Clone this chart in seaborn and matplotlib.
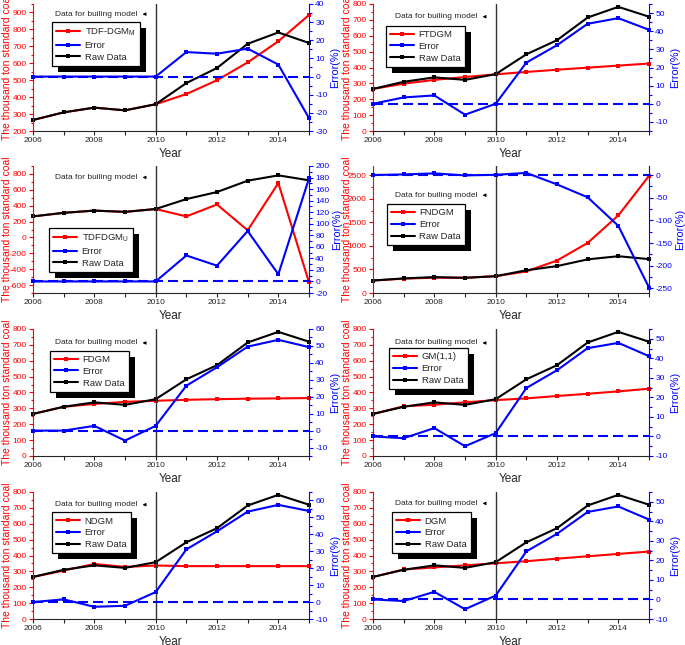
import matplotlib
matplotlib.use("Agg")
import matplotlib.pyplot as plt
import seaborn as sns
from matplotlib.patches import Rectangle
from matplotlib.ticker import MultipleLocator, AutoMinorLocator

# shared data
years = [2006, 2007, 2008, 2009, 2010, 2011, 2012, 2013, 2014, 2015]
raw_data = [265, 310, 338, 322, 358, 483, 572, 715, 782, 720]

# model predictions (thousand ton standard coal)
tdf_dgm_m = [265, 310, 338, 322, 358, 418, 500, 605, 730, 885]
ftdgm = [265, 298, 322, 340, 357, 372, 386, 399, 412, 425]
tdfdgm_u = [265, 310, 338, 322, 358, 265, 415, 90, 685, -565]
fndgm = [265, 305, 325, 324, 356, 460, 690, 1065, 1650, 2490]
fdgm = [265, 310, 328, 341, 348, 354, 358, 361, 363, 365]
gm11 = [265, 313, 323, 338, 352, 363, 378, 392, 407, 424]
ndgm = [265, 305, 347, 328, 337, 333, 333, 333, 333, 333]
dgm = [265, 312, 325, 338, 351, 364, 380, 395, 410, 425]

# relative errors (%)
err_tdf_dgm_m = [0, 0, 0, 0, 0, 13.5, 12.6, 15.4, 6.6, -22.9]
err_ftdgm = [0, 3.5, 4.6, -6.0, 0, 22.7, 32.3, 44.1, 47.2, 40.8]
err_tdfdgm_u = [0, 0, 0, 0, 0, 45.0, 27.4, 87.4, 12.4, 178.5]
err_fndgm = [0, 1.5, 3.7, -0.7, 0.6, 4.8, -20.6, -49.0, -112.0, -248.0]
err_fdgm = [0, 0, 2.8, -5.9, 2.8, 26.5, 37.4, 49.6, 53.6, 49.3]
err_gm11 = [0, -0.9, 4.3, -5.0, 1.7, 24.8, 33.9, 45.2, 47.9, 41.1]
err_ndgm = [0, 1.6, -2.8, -2.2, 5.9, 31.1, 41.8, 53.4, 57.4, 53.8]
err_dgm = [0, -0.8, 3.9, -5.0, 2.0, 24.6, 33.6, 44.8, 47.6, 40.9]

RED = "#ff0000"
BLUE = "#0000ff"

sns.set_style("ticks")
plt.rcParams["font.family"] = ["Liberation Sans", "DejaVu Sans"]
plt.rcParams["mathtext.default"] = "regular"
plt.rcParams["axes.unicode_minus"] = False

fig = plt.figure(figsize=(6.85, 6.45), dpi=100)

# (name, model, error, left lim, left step, right lim, right step, legend xy, text y)
panels = [
    ("TDF-DGM$_\\mathregular{M}$", tdf_dgm_m, err_tdf_dgm_m, (200, 950), 100, (-30, 40), 10, (0.069, 0.856), 0.92),
    ("FTDGM", ftdgm, err_ftdgm, (0, 800), 100, (-15, 55), 10, (0.047, 0.83), 0.90),
    ("TDFDGM$_\\mathregular{U}$", tdfdgm_u, err_tdfdgm_u, (-700, 900), 200, (-20, 200), 20, (0.058, 0.51), 0.91),
    ("FNDGM", fndgm, err_fndgm, (0, 2700), 500, (-260, 20), 50, (0.05, 0.70), 0.77),
    ("FDGM", fdgm, err_fdgm, (0, 800), 100, (-15, 60), 10, (0.062, 0.83), 0.89),
    ("GM(1,1)", gm11, err_gm11, (0, 800), 100, (-10, 55), 10, (0.058, 0.85), 0.89),
    ("NDGM", ndgm, err_ndgm, (0, 800), 100, (-10, 65), 10, (0.069, 0.84), 0.90),
    ("DGM", dgm, err_dgm, (0, 800), 100, (-10, 55), 10, (0.069, 0.84), 0.91),
]

col_left = [33 / 685, 373 / 685]
row_top = [4, 166, 329, 492]
w = 276 / 685
h = 127 / 645

legends = []
for i, (name, model, err, ylim1, step1, ylim2, step2, leg_xy, text_y) in enumerate(panels):
    r, c = divmod(i, 2)
    ax = fig.add_axes([col_left[c], 1 - (row_top[r] + 127) / 645, w, h])
    ax2 = ax.twinx()

    sns.lineplot(x=years, y=model, ax=ax, color=RED, marker="s", markersize=3.5,
                 markeredgewidth=0, linewidth=1.5, clip_on=False)
    h_model = ax.lines[-1]
    sns.lineplot(x=years, y=raw_data, ax=ax, color="black", marker="s", markersize=3.5,
                 markeredgewidth=0, linewidth=1.5, clip_on=False)
    h_raw = ax.lines[-1]
    sns.lineplot(x=years, y=err, ax=ax2, color=BLUE, marker="s", markersize=3.5,
                 markeredgewidth=0, linewidth=1.5, clip_on=False)
    h_err = ax2.lines[-1]
    ax2.axhline(0, color=BLUE, lw=1.5, ls=(0, (4.8, 2.4)))
    ax.axvline(2010, color="#333333", lw=1)

    ax.set_xlim(2006, 2015)
    ax.set_ylim(*ylim1)
    ax2.set_ylim(*ylim2)
    ax.xaxis.set_major_locator(MultipleLocator(2))
    ax.xaxis.set_minor_locator(MultipleLocator(1))
    ax.yaxis.set_major_locator(MultipleLocator(step1))
    ax.yaxis.set_minor_locator(AutoMinorLocator(2))
    ax2.yaxis.set_major_locator(MultipleLocator(step2))
    ax2.yaxis.set_minor_locator(AutoMinorLocator(2))

    for a in (ax, ax2):
        a.spines["top"].set_visible(False)
    ax.spines["left"].set_color(RED)
    ax.spines["right"].set_visible(False)
    ax2.spines["right"].set_color(BLUE)
    ax2.spines["left"].set_visible(False)
    ax2.spines["bottom"].set_visible(False)

    ax.tick_params(axis="x", which="both", direction="out", labelsize=6, pad=1.5,
                   length=3, width=0.8)
    ax.tick_params(axis="y", which="both", colors=RED, labelsize=6, pad=1.5, width=0.8)
    ax.tick_params(axis="y", which="major", length=3)
    ax.tick_params(axis="y", which="minor", length=1.8)
    ax2.tick_params(axis="y", which="both", colors=BLUE, labelsize=6, pad=1.5, width=0.8)
    ax2.tick_params(axis="y", which="major", length=3)
    ax2.tick_params(axis="y", which="minor", length=1.8)

    ax.set_xlabel("Year", fontsize=8.5, labelpad=3)
    ax.set_ylabel("The thousand ton standard coal", color=RED, fontsize=7.5)
    ax.yaxis.set_label_coords(-0.076, 0.5)
    ax2.set_ylabel("Error(%)", color=BLUE, fontsize=7.8, labelpad=2)

    tr = ax2.get_xaxis_transform()
    ax2.text(2009.42, text_y, "Data for builing model", fontsize=6, ha="right", va="center",
             transform=tr)
    ax2.annotate("", xy=(2009.48, text_y), xytext=(2009.75, text_y), xycoords=tr,
                 arrowprops=dict(arrowstyle="-|>", color="black", lw=0.8, mutation_scale=4))

    leg = ax2.legend([h_model, h_err, h_raw], [name, "Error", "Raw Data"],
                     loc="upper left", bbox_to_anchor=leg_xy, borderaxespad=0,
                     fontsize=6.8, frameon=True, fancybox=False, framealpha=1,
                     edgecolor="black", handlelength=2.5, handletextpad=0.5,
                     labelspacing=0.3, borderpad=0.45, numpoints=1)
    leg.get_frame().set_linewidth(0.9)
    legends.append((ax2, leg))

# black drop shadows behind the legend boxes
fig.canvas.draw()
for ax2, leg in legends:
    bb = leg.get_window_extent()
    inv = ax2.transAxes.inverted()
    (x0, y0), (x1, y1) = inv.transform([[bb.x0 + 6, bb.y0 - 6], [bb.x1 + 6, bb.y1 - 6]])
    ax2.add_patch(Rectangle((x0, y0), x1 - x0, y1 - y0, transform=ax2.transAxes,
                            facecolor="black", edgecolor="none", zorder=leg.get_zorder() - 0.1,
                            clip_on=False))

fig.savefig("out.png", dpi=100)
